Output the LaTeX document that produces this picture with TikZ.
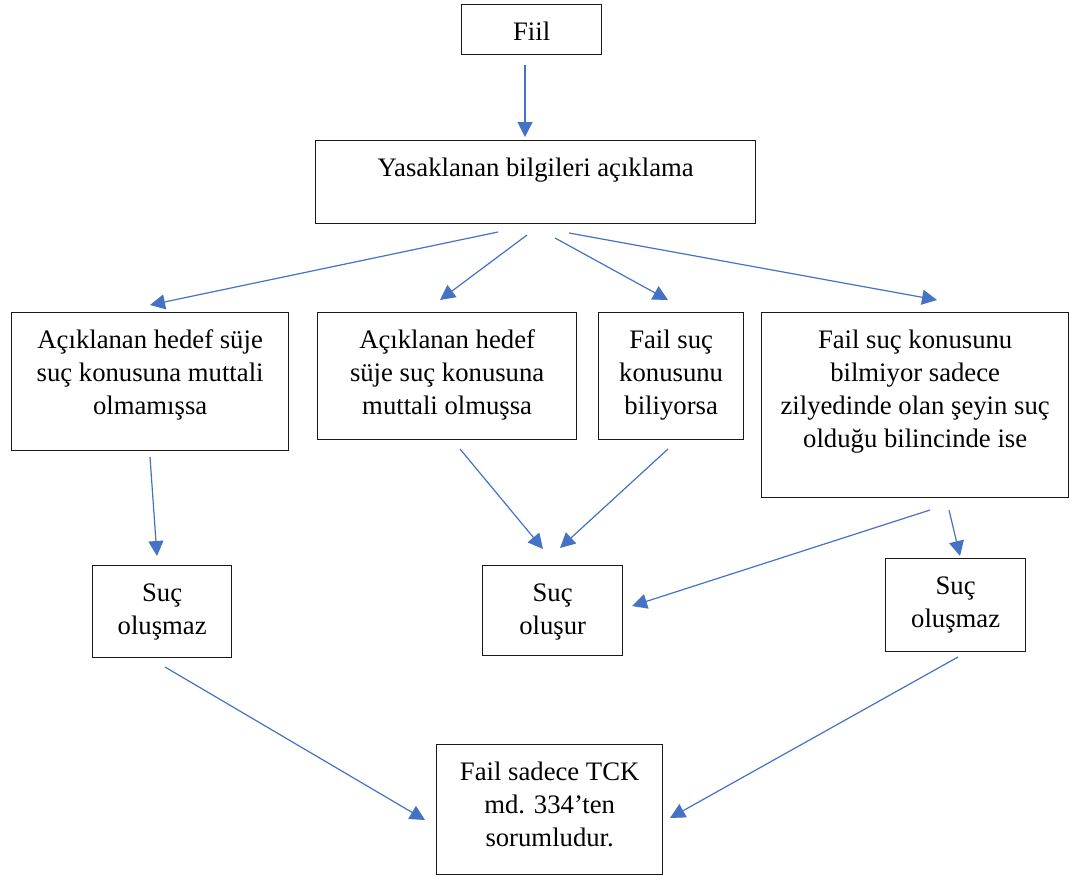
\documentclass[tikz,border=0pt]{standalone}
\usepackage{fontspec}
\setmainfont{Liberation Serif}
\newfontfamily\flowfont{Liberation Serif}
\usetikzlibrary{arrows.meta}
\definecolor{flowblue}{HTML}{4472C4}
% text of a box, set from its top edge; the box is #1 wide and #2 high
\newcommand{\flowtext}[3]{\parbox[c][#2][t]{#1}{\centering\vspace*{17pt}\rule{0pt}{19pt}#3}}
\begin{document}
\begin{tikzpicture}[x=1pt,y=-1pt,
  flowbox/.style={draw=black!90, line width=1.3pt, inner sep=0pt, anchor=north west,
    font=\flowfont\fontsize{26.7}{33}\selectfont},
  flowarrow/.style={draw=flowblue, line width=1.2pt,
    -{Triangle[length=15pt,width=15pt]}}]
\useasboundingbox (0,0) rectangle (1070,875);

% boxes
\node[flowbox] (fiil) at (461,4) {\flowtext{140pt}{50pt}{Fiil}};
\node[flowbox] (yasak) at (315,140) {\flowtext{440pt}{83pt}{Yasaklanan bilgileri açıklama}};
\node[flowbox] (mutno) at (11,312) {\flowtext{277pt}{138pt}{Açıklanan hedef süje\\suç konusuna muttali\\olmamışsa}};
\node[flowbox] (mutyes) at (317,312) {\flowtext{259pt}{127pt}{Açıklanan hedef\\süje suç konusuna\\muttali olmuşsa}};
\node[flowbox] (biliyor) at (598,312) {\flowtext{145pt}{127pt}{Fail suç\\konusunu\\biliyorsa}};
\node[flowbox] (bilmiyor) at (761,312) {\flowtext{307pt}{185pt}{Fail suç konusunu\\bilmiyor sadece\\zilyedinde olan şeyin suç\\olduğu bilincinde ise}};
\node[flowbox] (yokL) at (92,565) {\flowtext{139pt}{92pt}{Suç\\oluşmaz}};
\node[flowbox] (olusur) at (482,565) {\flowtext{140pt}{90pt}{Suç\\oluşur}};
\node[flowbox] (yokR) at (885,558) {\flowtext{140pt}{93pt}{Suç\\oluşmaz}};
\node[flowbox] (tck) at (436,744) {\flowtext{226pt}{130pt}{Fail sadece TCK\\md. 334’ten\\sorumludur.}};

% connector ends
\coordinate (f1) at (525,65);   \coordinate (f2) at (525,137);
\coordinate (y1a) at (498,232); \coordinate (a1) at (150,305);
\coordinate (y1b) at (527,235); \coordinate (b1) at (440,300);
\coordinate (y1c) at (555,238); \coordinate (c1) at (668,300);
\coordinate (y1d) at (569,233); \coordinate (d1) at (937,300);
\coordinate (a2) at (150,457);  \coordinate (l1) at (157,556);
\coordinate (b2) at (460,449);  \coordinate (o1) at (543,549);
\coordinate (c2) at (668,449);  \coordinate (o2) at (560,548);
\coordinate (d2) at (930,510);  \coordinate (o3) at (632,606);
\coordinate (d3) at (949,510);  \coordinate (r1) at (960,556);
\coordinate (l2) at (165,667);  \coordinate (t1) at (425,820);
\coordinate (r2) at (958,657);  \coordinate (t2) at (670,818);

% connectors
\draw[flowarrow] (f1) -- (f2);
\draw[flowarrow] (y1a) -- (a1);
\draw[flowarrow] (y1b) -- (b1);
\draw[flowarrow] (y1c) -- (c1);
\draw[flowarrow] (y1d) -- (d1);
\draw[flowarrow] (a2) -- (l1);
\draw[flowarrow] (b2) -- (o1);
\draw[flowarrow] (c2) -- (o2);
\draw[flowarrow] (d2) -- (o3);
\draw[flowarrow] (d3) -- (r1);
\draw[flowarrow] (l2) -- (t1);
\draw[flowarrow] (r2) -- (t2);
\end{tikzpicture}
\end{document}
